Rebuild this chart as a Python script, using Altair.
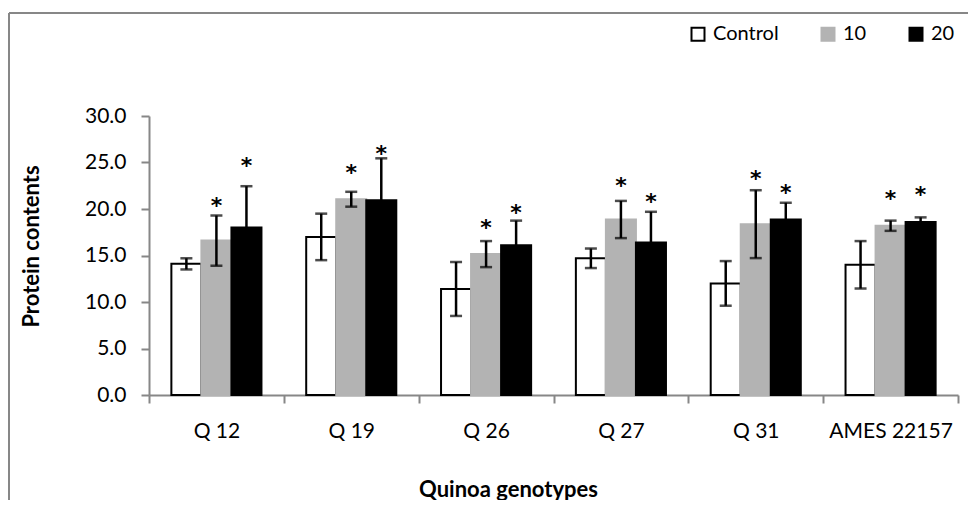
import altair as alt
import pandas as pd

genotypes = ["Q 12", "Q 19", "Q 26", "Q 27", "Q 31", "AMES 22157"]
groups = ["Control", "10", "20"]
control = [14.1, 17.0, 11.4, 14.7, 12.0, 14.0]
control_err = [0.6, 2.5, 2.9, 1.05, 2.4, 2.55]
t10 = [16.6, 21.05, 15.15, 18.87, 18.37, 18.2]
t10_err = [2.7, 0.8, 1.4, 2.0, 3.65, 0.55]
t20 = [18.0, 20.95, 16.1, 16.4, 18.87, 18.6]
t20_err = [4.45, 4.5, 2.65, 3.3, 1.8, 0.5]
star10 = [20.75, 24.35, 18.44, 22.9, 23.7, 21.55]
star20 = [25.06, 26.3, 20.05, 21.2, 22.2, 21.95]

rows = []
for i, g in enumerate(genotypes):
    for grp, vals, errs, stars in [("Control", control, control_err, None),
                                    ("10", t10, t10_err, star10),
                                    ("20", t20, t20_err, star20)]:
        rows.append({
            "genotype": g, "group": grp, "value": vals[i],
            "lo": vals[i] - errs[i], "hi": vals[i] + errs[i],
            "star": stars[i] if stars else None,
        })
df = pd.DataFrame(rows)

FONT = "Lato"
AXIS_GRAY = "#878787"
W, H = 809, 279

x_enc = alt.X("genotype:N", sort=genotypes,
              scale=alt.Scale(paddingInner=0, paddingOuter=0),
              axis=alt.Axis(title="Quinoa genotypes", labelAngle=0, labelFontSize=21,
                            labelColor="black", labelPadding=17, tickBand="extent",
                            tickSize=8, tickColor=AXIS_GRAY, tickWidth=2,
                            domainColor=AXIS_GRAY, domainWidth=2,
                            titleFontSize=22, titleFontWeight="bold", titleColor="black",
                            titleX=359, titleY=101, titleBaseline="alphabetic"))
xoff = alt.XOffset("group:N", sort=groups,
                   scale=alt.Scale(domain=groups, paddingInner=0, paddingOuter=0.745))
y_scale = alt.Scale(domain=[0, 30], nice=False)

legend = alt.Legend(title=None, orient="none", direction="horizontal",
                    legendX=539, legendY=-92, symbolType="square",
                    symbolSize=169, symbolStrokeWidth=2,
                    labelFontSize=20, labelColor="black", labelOffset=5,
                    columnPadding=38)

base = alt.Chart(df)

bars = base.mark_bar(strokeWidth=2).encode(
    x=x_enc,
    xOffset=xoff,
    y=alt.Y("value:Q", scale=y_scale,
            axis=alt.Axis(title="Protein contents", values=[0, 5, 10, 15, 20, 25, 30],
                          format=".1f", labelFontSize=21, labelColor="black",
                          labelPadding=15, tickSize=8, tickColor=AXIS_GRAY, tickWidth=2,
                          domainColor=AXIS_GRAY, domainWidth=2, grid=False,
                          titleFontSize=22, titleFontWeight="bold", titleColor="black",
                          titleX=-111, titleY=130, titleBaseline="alphabetic")),
    fill=alt.Fill("group:N", sort=groups,
                  scale=alt.Scale(domain=groups, range=["white", "#b3b3b3", "black"]),
                  legend=legend),
    stroke=alt.Stroke("group:N", sort=groups,
                      scale=alt.Scale(domain=groups, range=["black", "#b3b3b3", "black"]),
                      legend=legend),
)

err = base.mark_rule(color="black", strokeWidth=2.5).encode(
    x=alt.X("genotype:N", sort=genotypes),
    xOffset=xoff,
    y=alt.Y("lo:Q", scale=y_scale),
    y2="hi:Q",
)
cap_lo = base.mark_tick(color="black", orient="horizontal", size=12, thickness=2.5).encode(
    x=alt.X("genotype:N", sort=genotypes), xOffset=xoff, y=alt.Y("lo:Q", scale=y_scale))
cap_hi = base.mark_tick(color="black", orient="horizontal", size=12, thickness=2.5).encode(
    x=alt.X("genotype:N", sort=genotypes), xOffset=xoff, y=alt.Y("hi:Q", scale=y_scale))

stars = base.transform_filter("datum.star != null").mark_text(
    text="*", font="DejaVu Sans", fontSize=22, fontWeight="bold", color="black",
    baseline="middle", dy=4
).encode(x=alt.X("genotype:N", sort=genotypes), xOffset=xoff,
         y=alt.Y("star:Q", scale=y_scale))

one = alt.Data(values=[{"a": 1}])
border_left = alt.Chart(one).mark_rule(color=AXIS_GRAY, strokeWidth=2).encode(
    x=alt.value(-140), y=alt.value(-103), y2=alt.value(H + 110))
border_top = alt.Chart(one).mark_rule(color=AXIS_GRAY, strokeWidth=2).encode(
    x=alt.value(-140), x2=alt.value(W + 20), y=alt.value(-103))

chart = alt.layer(bars, err, cap_lo, cap_hi, stars, border_left, border_top).properties(
    width=W, height=H,
    padding={"left": 141, "top": 108, "right": 10, "bottom": 105},
    autosize=alt.AutoSizeParams(type="none"),
).configure(font=FONT).configure_view(stroke=None)

chart.save("out.html", embed_options={"renderer": "svg", "actions": False})
